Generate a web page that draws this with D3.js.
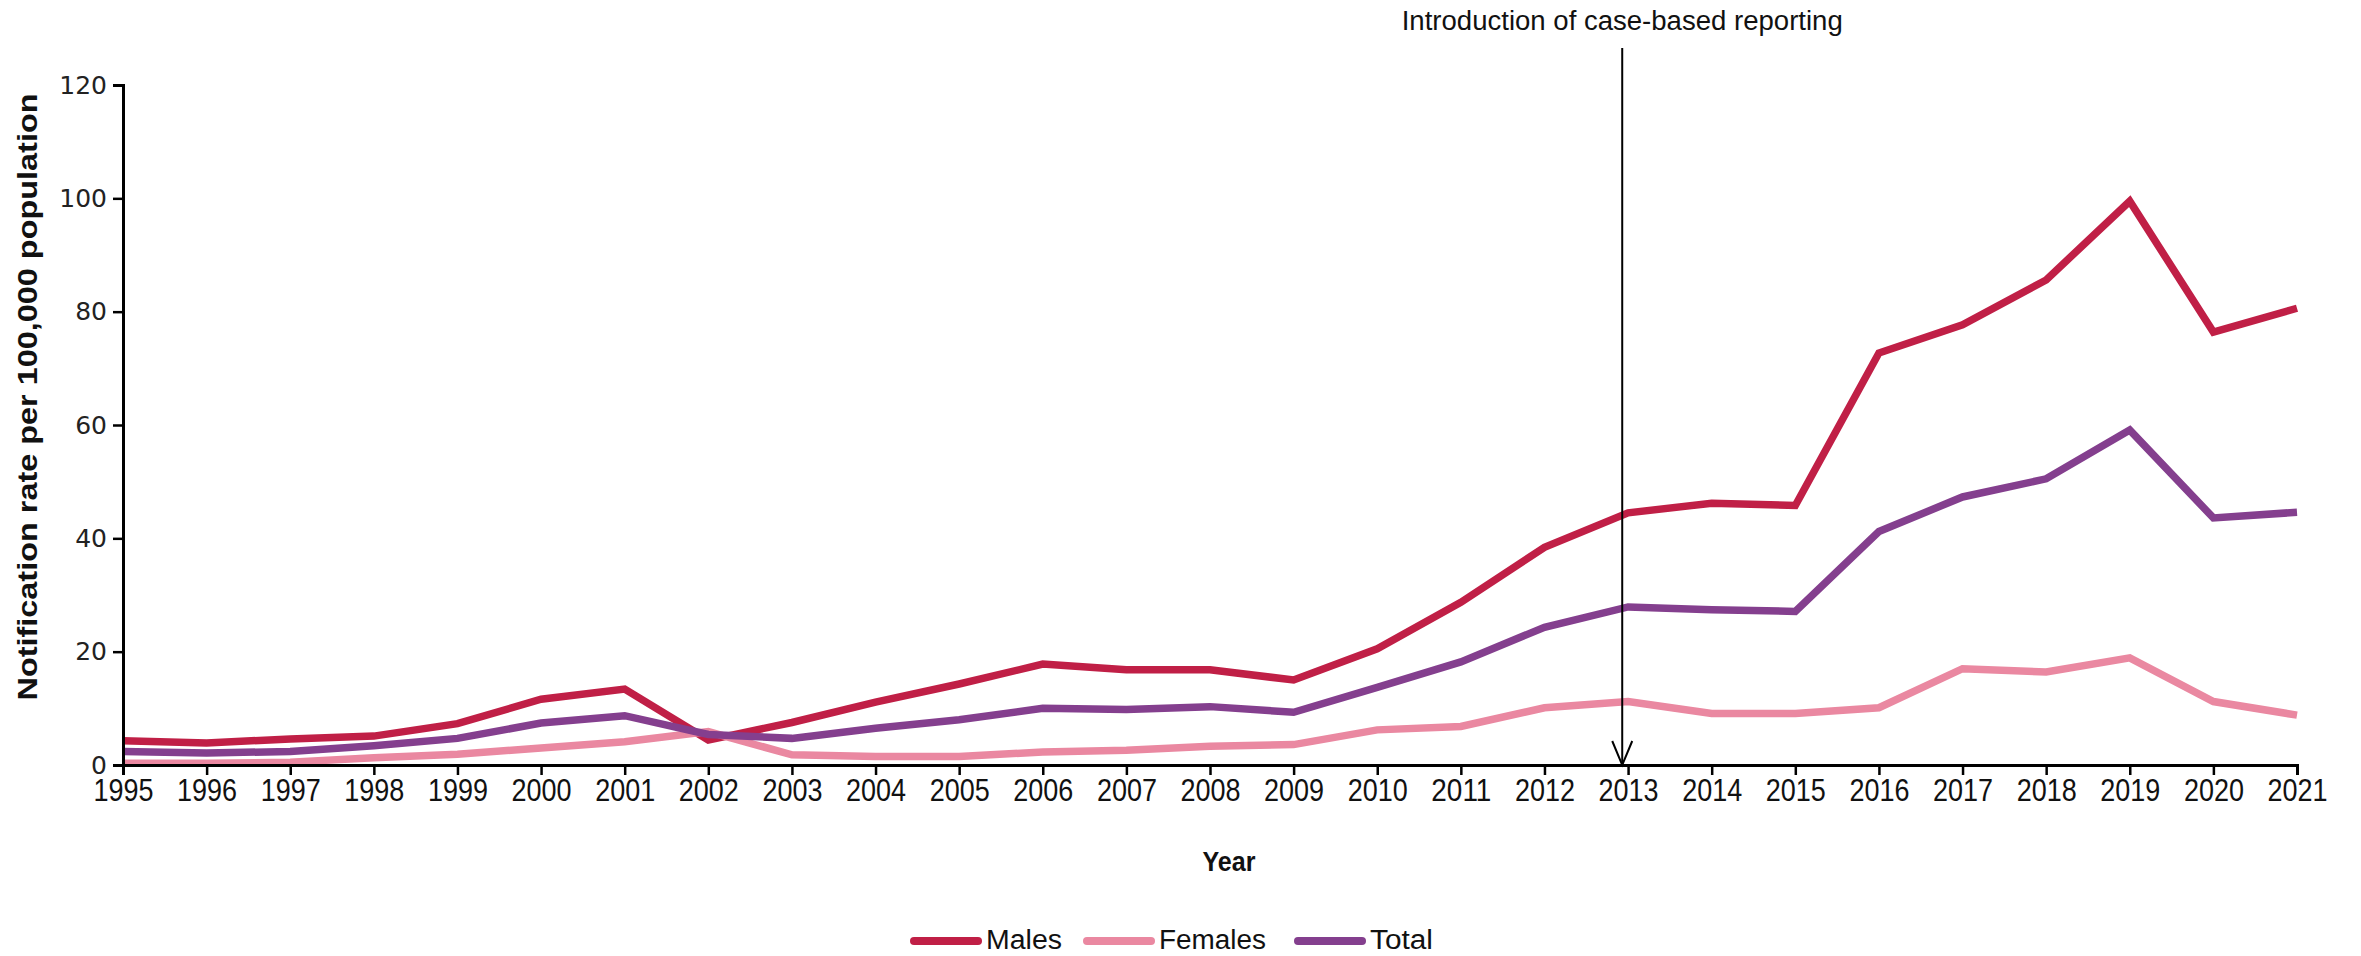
<!DOCTYPE html>
<html>
<head>
<meta charset="utf-8">
<script src="https://cdn.jsdelivr.net/npm/d3@7"></script>
<style>
  html, body { margin: 0; padding: 0; background: #fff; }
  svg { display: block; }
  .narrow { font-family: "Liberation Sans Narrow", "Arial Narrow", "Liberation Sans", sans-serif; }
</style>
</head>
<body>
<svg id="chart" width="2361" height="956"></svg>
<script>
const years = d3.range(1995, 2022);
const males = [4.3, 3.9, 4.6, 5.1, 7.3, 11.6, 13.4, 4.4, 7.5, 11.1, 14.3, 17.8, 16.8, 16.8, 15.0, 20.5, 28.7, 38.4, 44.5, 46.2, 45.8, 72.7, 77.7, 85.6, 99.5, 76.4, 80.6];
const females = [0.3, 0.3, 0.5, 1.3, 1.9, 3.0, 4.1, 5.9, 1.8, 1.5, 1.5, 2.3, 2.6, 3.3, 3.6, 6.2, 6.8, 10.1, 11.2, 9.1, 9.1, 10.1, 17.0, 16.4, 18.9, 11.2, 8.8];
const total = [2.4, 2.1, 2.4, 3.4, 4.7, 7.4, 8.7, 5.4, 4.7, 6.5, 8.0, 10.0, 9.8, 10.3, 9.3, 13.7, 18.2, 24.3, 27.9, 27.4, 27.1, 41.2, 47.3, 50.5, 59.1, 43.6, 44.6];
const seriesNames = ["Males", "Females", "Total"];
const seriesColors = ["#C01F46", "#EA88A1", "#843F8E"];
const yTicks = [0, 20, 40, 60, 80, 100, 120];
const annotationYear = 2012.93;
const annotationText = "Introduction of case-based reporting";
const yTitle = "Notification rate per 100,000 population";
const xTitle = "Year";

const svg = d3.select("#chart");
const x = d3.scaleLinear().domain([1995, 2021]).range([123, 2297]);
const y = d3.scaleLinear().domain([0, 120]).range([765, 85]);

const seriesData = [males, females, total];

// lines
const line = d3.line().x((d, i) => x(years[i])).y(d => y(d));
seriesData.forEach((s, k) => {
  svg.append("path")
    .datum(s)
    .attr("d", line)
    .attr("fill", "none")
    .attr("stroke", seriesColors[k])
    .attr("stroke-width", 7.5)
    .attr("stroke-linejoin", "miter");
});

// y axis
const yAxis = svg.append("g")
  .attr("transform", `translate(${x(1995)},0)`)
  .call(d3.axisLeft(y).tickValues(yTicks).tickSize(10).tickPadding(6).tickFormat(d3.format("d")));
yAxis.select(".domain").attr("stroke", "#000").attr("stroke-width", 3);
yAxis.selectAll(".tick line").attr("stroke", "#000").attr("stroke-width", 2.5);
yAxis.selectAll(".tick text")
  .attr("font-family", "DejaVu Sans, Verdana, sans-serif")
  .attr("font-size", 25)
  .attr("fill", "#222");

// x axis
const xAxis = svg.append("g")
  .attr("transform", `translate(0,${y(0)})`)
  .call(d3.axisBottom(x).tickValues(years).tickSize(10).tickPadding(4).tickFormat(d3.format("d")));
xAxis.select(".domain").attr("stroke", "#000").attr("stroke-width", 3);
xAxis.selectAll(".tick line").attr("stroke", "#000").attr("stroke-width", 2.5);
xAxis.selectAll(".tick text")
  .attr("class", "narrow")
  .attr("font-size", 31)
  .attr("fill", "#111")
  .attr("textLength", 60)
  .attr("lengthAdjust", "spacingAndGlyphs");

// axis titles
svg.append("text")
  .attr("transform", `translate(27,397) rotate(-90)`)
  .attr("text-anchor", "middle")
  .attr("dominant-baseline", "central")
  .attr("class", "narrow")
  .attr("font-weight", "bold")
  .attr("font-size", 28)
  .attr("fill", "#111")
  .attr("textLength", 607)
  .attr("lengthAdjust", "spacingAndGlyphs")
  .text(yTitle);

svg.append("text")
  .attr("x", 1229)
  .attr("y", 871)
  .attr("text-anchor", "middle")
  .attr("class", "narrow")
  .attr("font-weight", "bold")
  .attr("font-size", 28)
  .attr("fill", "#111")
  .attr("textLength", 53)
  .attr("lengthAdjust", "spacingAndGlyphs")
  .text(xTitle);

// annotation
const ax = x(annotationYear);
svg.append("line")
  .attr("x1", ax).attr("x2", ax)
  .attr("y1", 48).attr("y2", y(0))
  .attr("stroke", "#000").attr("stroke-width", 2);
svg.append("path")
  .attr("d", `M${ax - 10},${y(0) - 24} L${ax},${y(0)} L${ax + 10},${y(0) - 24}`)
  .attr("fill", "none").attr("stroke", "#000").attr("stroke-width", 2);
svg.append("text")
  .attr("x", ax)
  .attr("y", 30)
  .attr("text-anchor", "middle")
  .attr("class", "narrow")
  .attr("font-size", 27)
  .attr("fill", "#111")
  .attr("textLength", 441)
  .attr("lengthAdjust", "spacingAndGlyphs")
  .text(annotationText);

// legend
const legendItems = [
  { name: seriesNames[0], color: seriesColors[0], x0: 914, w: 76 },
  { name: seriesNames[1], color: seriesColors[1], x0: 1087, w: 107 },
  { name: seriesNames[2], color: seriesColors[2], x0: 1298, w: 63 }
];
const lg = svg.append("g");
legendItems.forEach(it => {
  lg.append("line")
    .attr("x1", it.x0).attr("x2", it.x0 + 64)
    .attr("y1", 941).attr("y2", 941)
    .attr("stroke", it.color).attr("stroke-width", 8)
    .attr("stroke-linecap", "round");
  lg.append("text")
    .attr("x", it.x0 + 72)
    .attr("y", 949)
    .attr("class", "narrow")
    .attr("font-size", 27)
    .attr("fill", "#111")
    .attr("textLength", it.w)
    .attr("lengthAdjust", "spacingAndGlyphs")
    .text(it.name);
});
</script>
</body>
</html>
